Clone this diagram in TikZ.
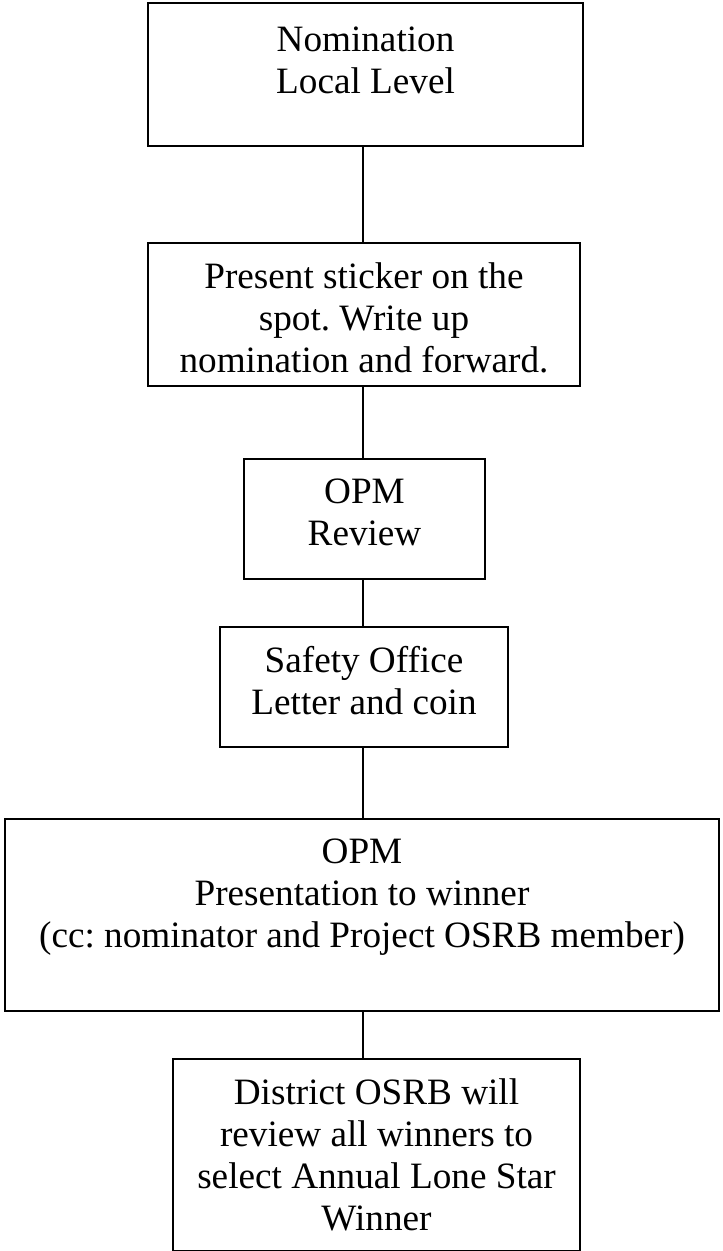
\documentclass[tikz,border=0pt]{standalone}
\usepackage{fontspec}
\setmainfont{Liberation Serif}
\frenchspacing
\begin{document}
\begin{tikzpicture}[x=0.5pt,y=-0.5pt,
  box/.style={draw, line width=1pt, rectangle, inner sep=0pt, anchor=north west},
  boxtext/.style={inner sep=0pt, align=center, anchor=north,
    font=\fontsize{18.6pt}{21pt}\selectfont\frenchspacing},
  link/.style={line width=1pt}]
\useasboundingbox (0,0) rectangle (722,1251);

% vertical axis the connectors follow
\coordinate (axis) at (363,0);

% boxes (top-left corner, size)
\node[box, minimum width=217.5pt, minimum height=71.5pt] (b1) at (147,2) {};
\node[box, minimum width=216pt,   minimum height=71.5pt] (b2) at (147,242) {};
\node[box, minimum width=120.5pt, minimum height=60pt]   (b3) at (243,458) {};
\node[box, minimum width=144pt,   minimum height=60pt]   (b4) at (219,626) {};
\node[box, minimum width=357pt,   minimum height=96pt]   (b5) at (4,818) {};
\node[box, minimum width=203.5pt, minimum height=96pt]   (b6) at (172,1058) {};

% box texts, set from the top of each box
\node[boxtext] (t1) at ([yshift=-12pt]b1.north) {Nomination\\Local Level};
\node[boxtext] (t2) at ([yshift=-10pt]b2.north) {Present sticker on the\\spot. Write up\\nomination and forward.};
\node[boxtext] (t3) at ([yshift=-10pt]b3.north) {OPM\\Review};
\node[boxtext] (t4) at ([yshift=-10pt]b4.north) {Safety Office\\Letter and coin};
\node[boxtext] (t5) at ([yshift=-10pt]b5.north) {OPM\\Presentation to winner\\(cc: nominator and Project OSRB member)};
\node[boxtext] (t6) at ([yshift=-10pt]b6.north) {District OSRB will\\review all winners to\\select Annual Lone Star\\Winner};

% connectors
\draw[link] (b1.south -| axis) -- (b2.north -| axis);
\draw[link] (b2.south -| axis) -- (b3.north -| axis);
\draw[link] (b3.south -| axis) -- (b4.north -| axis);
\draw[link] (b4.south -| axis) -- (b5.north -| axis);
\draw[link] (b5.south -| axis) -- (b6.north -| axis);
\end{tikzpicture}
\end{document}
